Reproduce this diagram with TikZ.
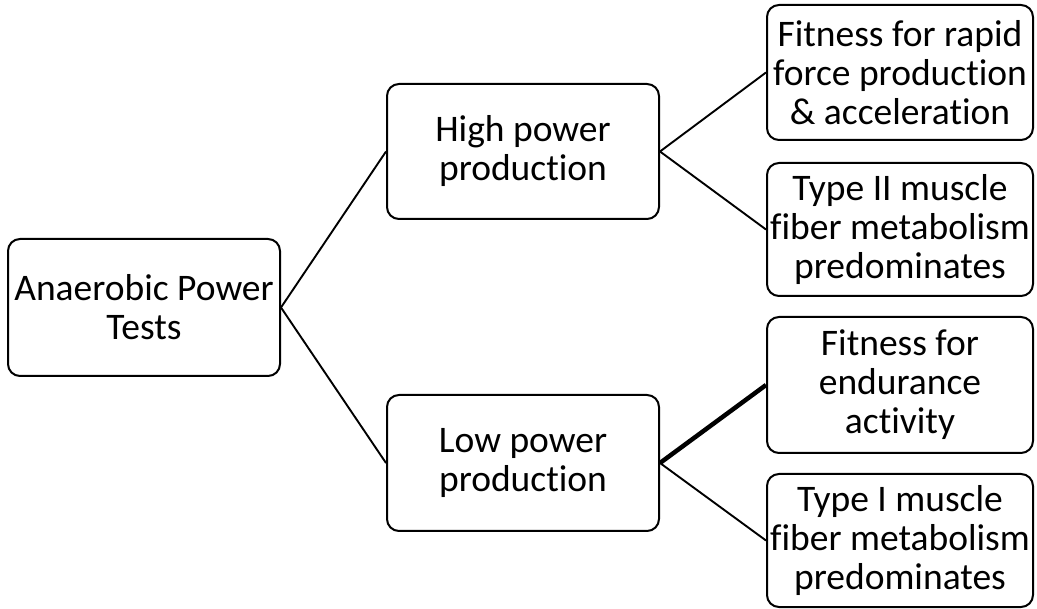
\documentclass[tikz,border=0pt]{standalone}
\usepackage{fontspec}
\setmainfont{Carlito}[Ligatures={NoCommon}]
\begin{document}
\begin{tikzpicture}[x=1pt,y=-1pt,
  box/.style={draw=black,line width=2pt,rounded corners=12pt,fill=white,
    align=center,inner sep=0pt,font=\fontsize{37.5}{39}\selectfont},
  conn/.style={line width=1.9pt,draw=black},
  thick conn/.style={line width=4.5pt,draw=black}]
\useasboundingbox (0,0) rectangle (1037,609);
\node[box,minimum width=272pt,minimum height=137pt] (root) at (144,307.5) {Anaerobic Power\\Tests};
\node[box,minimum width=272pt,minimum height=135pt] (high) at (523,151.5) {High power\\production};
\node[box,minimum width=272pt,minimum height=136pt] (low) at (523,463) {Low power\\production};
\node[box,minimum width=266pt,minimum height=135pt] (r1) at (900,72.5) {Fitness for rapid\\force production\\\& acceleration};
\node[box,minimum width=266pt,minimum height=133pt] (r2) at (900,229.5) {Type II muscle\\fiber metabolism\\predominates};
\node[box,minimum width=266pt,minimum height=136pt] (r3) at (900,385) {Fitness for\\endurance\\activity};
\node[box,minimum width=266pt,minimum height=133pt] (r4) at (900,540.5) {Type I muscle\\fiber metabolism\\predominates};
\draw[conn] (root.east) -- (high.west);
\draw[conn] (root.east) -- (low.west);
\draw[conn] (high.east) -- (r1.west);
\draw[conn] (high.east) -- (r2.west);
\draw[thick conn] (low.east) -- (r3.west);
\draw[conn] (low.east) -- (r4.west);
\end{tikzpicture}
\end{document}
